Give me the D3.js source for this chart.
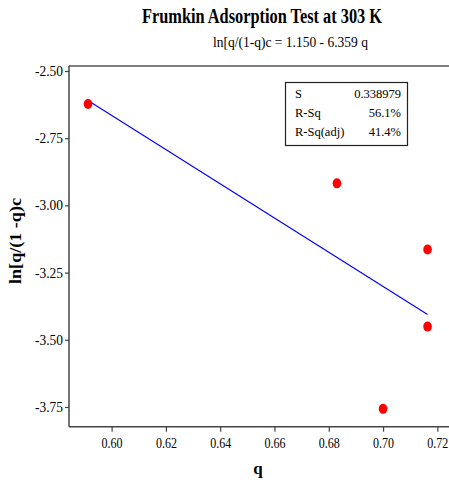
<!DOCTYPE html>
<html>
<head>
<meta charset="utf-8">
<script src="https://cdn.jsdelivr.net/npm/d3@7"></script>
<style>
  html, body { margin: 0; padding: 0; background: #fff; }
  svg { display: block; }
  text { font-family: "Liberation Serif", "Times New Roman", serif; fill: #000; }
</style>
</head>
<body>
<svg id="chart" width="449" height="483"></svg>
<script>
// ---- data ----
const qValues   = [0.5913, 0.683, 0.7164, 0.7164, 0.700];
const lnValues  = [-2.623, -2.918, -3.164, -3.451, -3.757];
const fitIntercept = 1.150;
const fitSlope = -6.359;
const xTicks = [0.60, 0.62, 0.64, 0.66, 0.68, 0.70, 0.72];
const yTicks = [-2.50, -2.75, -3.00, -3.25, -3.50, -3.75];
const statLabels = ["S", "R-Sq", "R-Sq(adj)"];
const statValues = ["0.338979", "56.1%", "41.4%"];
const titleText = "Frumkin Adsorption Test at 303 K";
const subtitleText = "ln[q/(1-q)c =  1.150 - 6.359 q";
const xLabel = "q";
const yLabel = "ln[q/(1 -q)c";

// ---- layout ----
const svg = d3.select("#chart");
const pLeft = 69, pRight = 452, pTop = 66, pBottom = 426.7;

const x = d3.scaleLinear().domain([0.5843, 0.7254]).range([pLeft, pRight]);
const y = d3.scaleLinear().domain([-2.4814, -3.8234]).range([pTop, pBottom]);

const axisColor = "#444";
const fmt = d => d3.format(".2f")(d).replace("\u2212", "-");

// frame: top line
svg.append("line").attr("x1", pLeft).attr("x2", pRight).attr("y1", pTop).attr("y2", pTop)
  .attr("stroke", "#555").attr("stroke-width", 1.5);

// axes
const xAxis = svg.append("g").attr("transform", `translate(0,${pBottom})`)
  .call(d3.axisBottom(x).tickValues(xTicks).tickFormat(fmt).tickSizeOuter(0).tickSize(5).tickPadding(6));
const yAxis = svg.append("g").attr("transform", `translate(${pLeft},0)`)
  .call(d3.axisLeft(y).tickValues(yTicks).tickFormat(fmt).tickSizeOuter(0).tickSize(4).tickPadding(2));

[xAxis, yAxis].forEach(g => {
  g.attr("font-family", null);
  g.select(".domain").attr("stroke", axisColor).attr("stroke-width", 1.5);
  g.selectAll(".tick line").attr("stroke", axisColor).attr("stroke-width", 1.2);
  g.selectAll(".tick text").attr("font-size", 14).attr("fill", "#000");
});
xAxis.select(".domain").attr("d", `M${pLeft},0H${pRight}`);
yAxis.select(".domain").attr("d", `M0,${pTop}V${pBottom}`);

xAxis.selectAll(".tick text").attr("textLength", 21).attr("lengthAdjust", "spacingAndGlyphs");
yAxis.selectAll(".tick text").attr("textLength", 28).attr("lengthAdjust", "spacingAndGlyphs");

// fit line
const qMin = d3.min(qValues), qMax = d3.max(qValues);
const fitPts = [qMin, qMax].map(q => [q, fitIntercept + fitSlope * q]);
svg.append("path")
  .attr("d", d3.line().x(d => x(d[0])).y(d => y(d[1]))(fitPts))
  .attr("fill", "none").attr("stroke", "#0000ff").attr("stroke-width", 1.2);

// points
svg.append("g").selectAll("ellipse").data(qValues.map((q, i) => [q, lnValues[i]]))
  .join("ellipse")
  .attr("cx", d => x(d[0])).attr("cy", d => y(d[1]))
  .attr("rx", 4.3).attr("ry", 5)
  .attr("fill", "#ff0000");

// title
svg.append("text").attr("x", 262).attr("y", 23).attr("text-anchor", "middle")
  .attr("font-size", 20).attr("font-weight", "bold")
  .attr("textLength", 240).attr("lengthAdjust", "spacingAndGlyphs")
  .text(titleText);
svg.append("text").attr("x", 290.5).attr("y", 47).attr("text-anchor", "middle")
  .attr("font-size", 15)
  .attr("textLength", 155).attr("lengthAdjust", "spacingAndGlyphs")
  .text(subtitleText);

// axis labels
svg.append("text").attr("x", 258).attr("y", 474).attr("text-anchor", "middle")
  .attr("font-size", 17).attr("font-weight", "bold").text(xLabel);
svg.append("text").attr("transform", "translate(21,241) rotate(-90)")
  .attr("text-anchor", "middle").attr("font-size", 16).attr("font-weight", "bold")
  .attr("textLength", 86).attr("lengthAdjust", "spacingAndGlyphs")
  .text(yLabel);

// stats box
const box = svg.append("g");
box.append("rect").attr("x", 285.5).attr("y", 82.5).attr("width", 122).attr("height", 63)
  .attr("fill", "#fff").attr("stroke", "#222").attr("stroke-width", 1.2);
const rowY = [98, 117, 136];
statLabels.forEach((s, i) => {
  box.append("text").attr("x", 295).attr("y", rowY[i]).attr("font-size", 12.5).text(s);
  box.append("text").attr("x", 401).attr("y", rowY[i]).attr("text-anchor", "end")
    .attr("font-size", 12.5).text(statValues[i]);
});
</script>
</body>
</html>
